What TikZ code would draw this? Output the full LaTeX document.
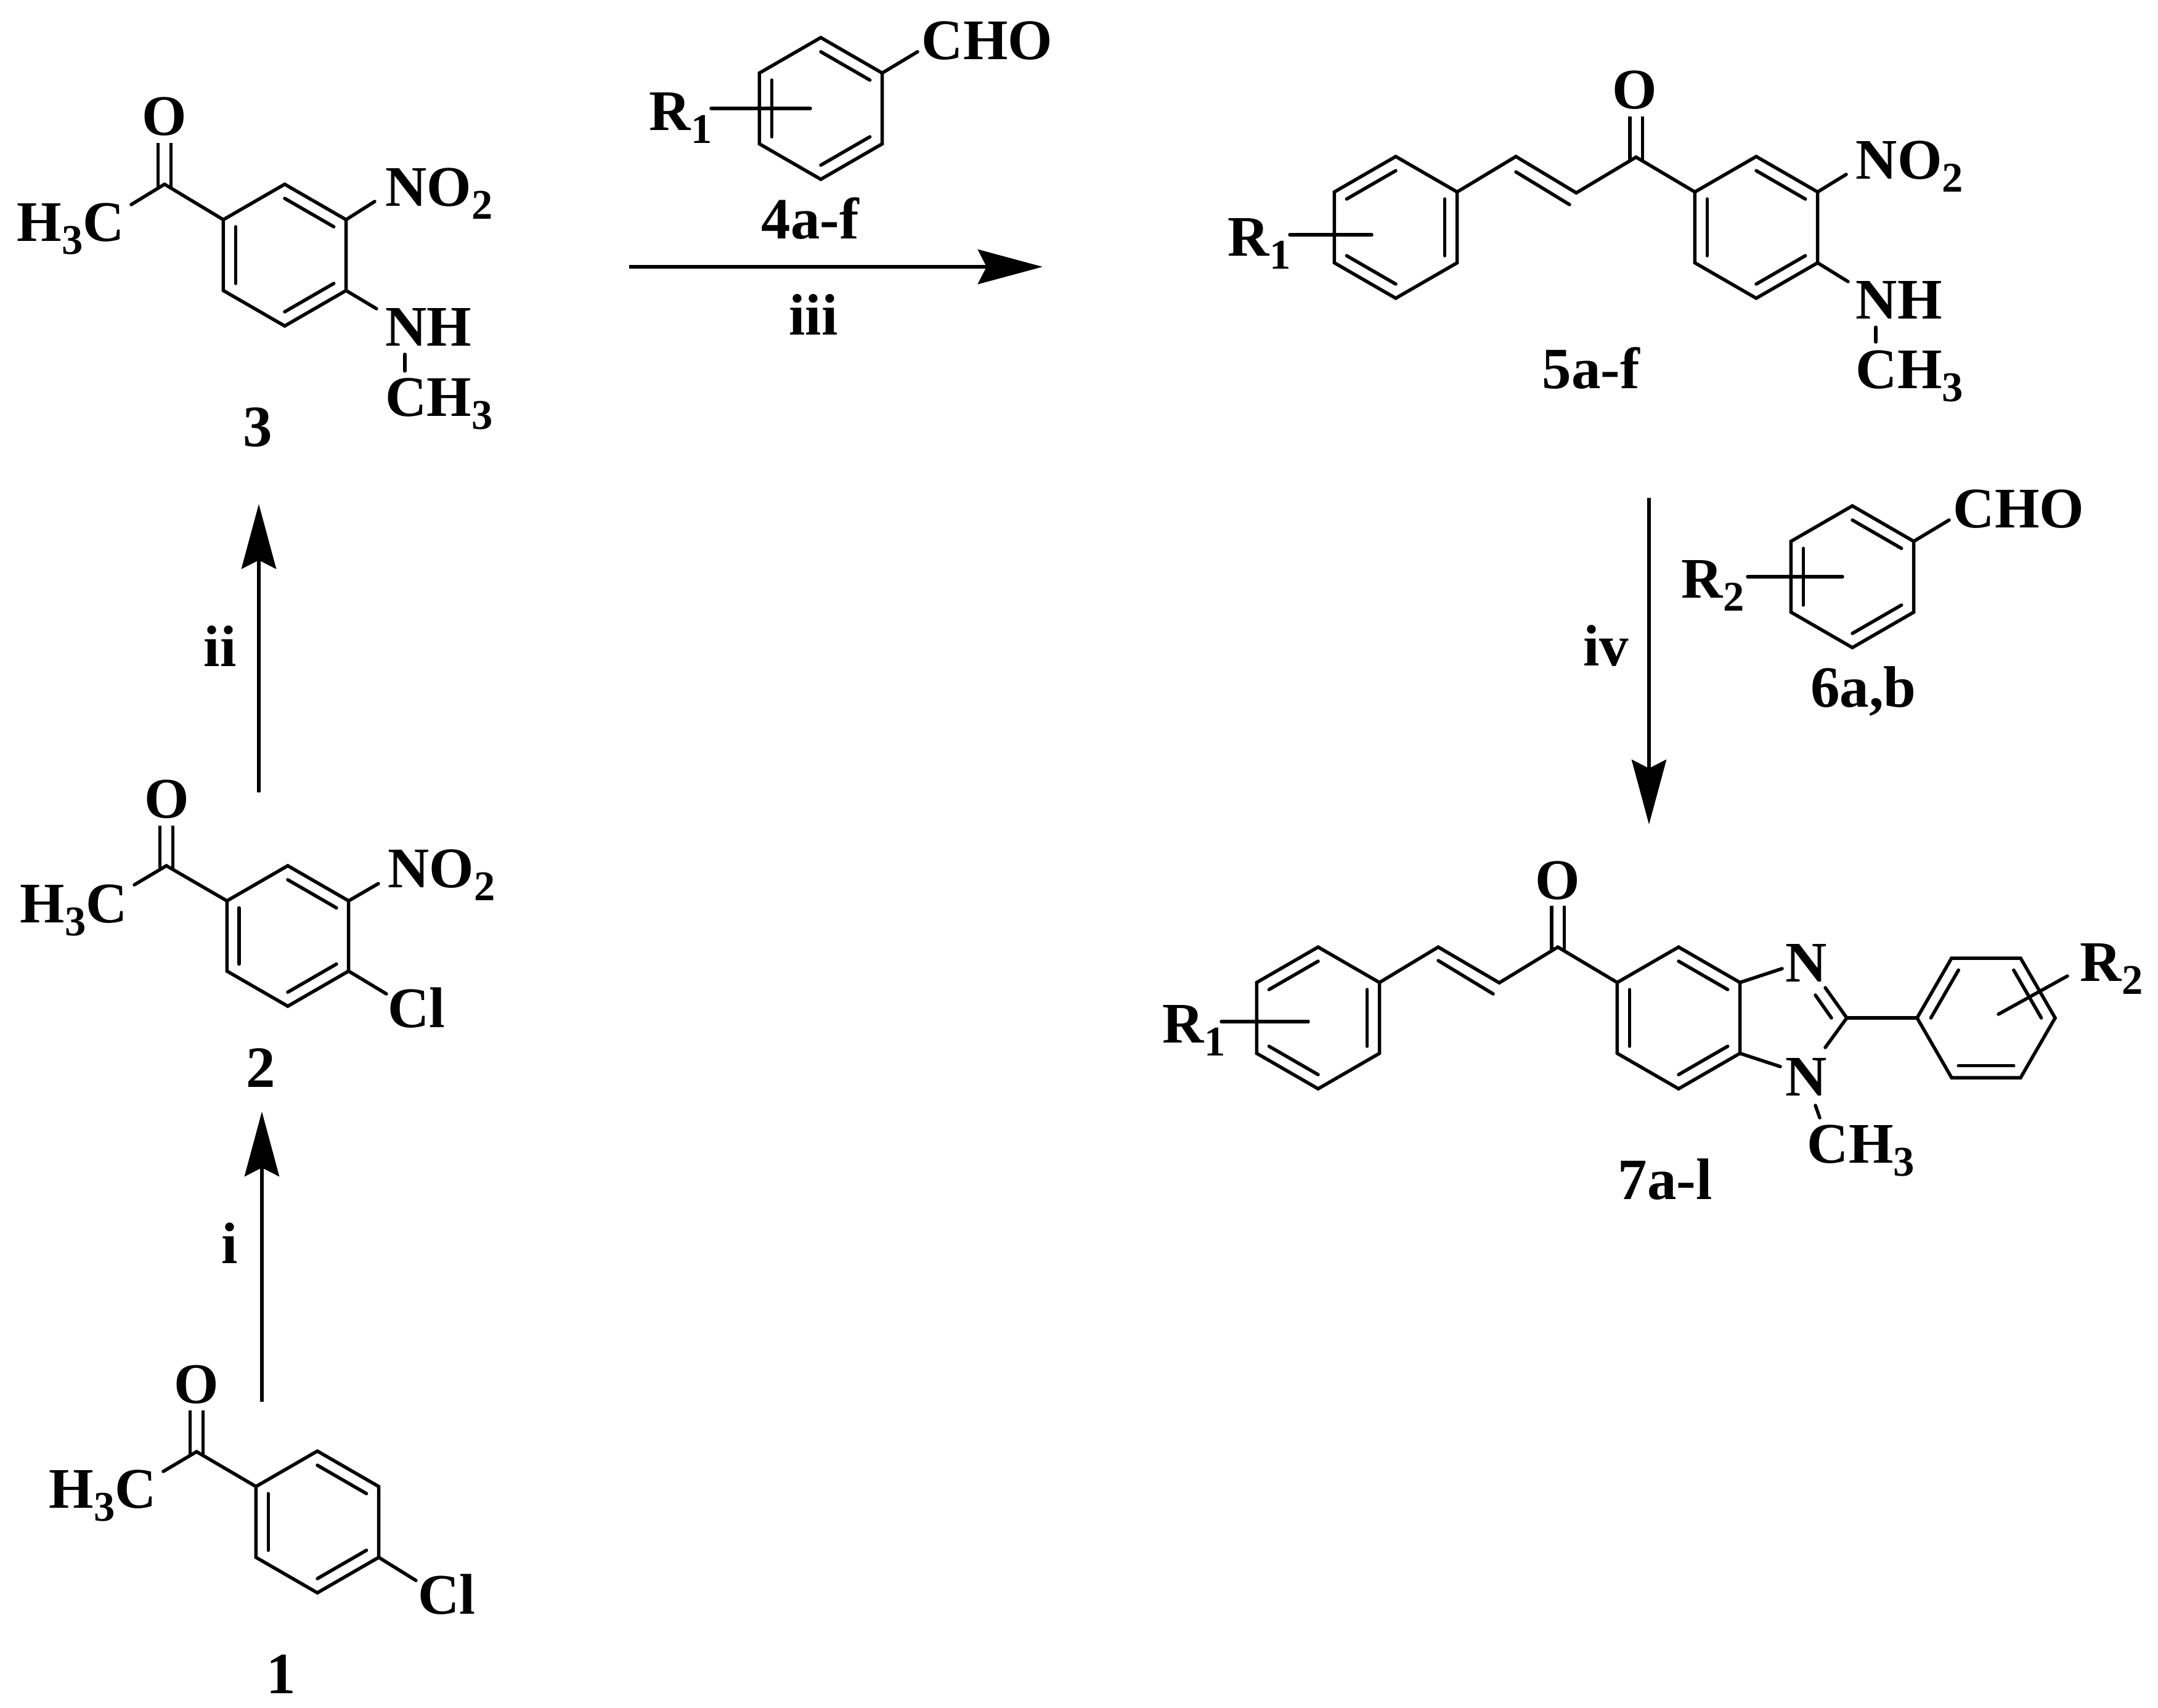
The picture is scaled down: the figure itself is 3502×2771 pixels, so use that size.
\documentclass[tikz,border=0pt]{standalone}
\usepackage{fontspec}
\setmainfont{Liberation Serif}
\usepackage{tikz}
\usetikzlibrary{calc}
\usetikzlibrary{arrows.meta}

\newcommand{\sbs}[1]{\raisebox{-6pt}{\fontsize{19.5}{19.5}\selectfont #1}}
\newcommand{\benzene}[6]{%
  \coordinate (#1) at (#2,#3);
  \foreach \k in {1,...,6} {
    \coordinate (#1-\k) at ({#2+#4*cos(#5+60*(\k-1))},{#3+#4*sin(#5+60*(\k-1))});
  }
  \draw[bond] (#1-1) -- (#1-2) -- (#1-3) -- (#1-4) -- (#1-5) -- (#1-6) -- cycle;
  \foreach \a/\b in {#6} {
    \draw[bond] ($(#1)!.8!(#1-\a)$) -- ($(#1)!.8!(#1-\b)$);
  }
}
\tikzset{
  bond/.style={line width=.055cm,line join=miter,line cap=round},
  cdouble/.style={draw,double,line width=.055cm,double distance=.15cm},
  atom/.style={inner sep=0pt,anchor=base west,font=\fontsize{26.5}{30}\selectfont\bfseries},
  oxy/.style={atom,anchor=base},
  cmpd/.style={inner sep=0pt,anchor=base,font=\fontsize{27}{30}\selectfont\bfseries},
  rxn/.style={line width=.06cm,-{Stealth[length=1.05cm,width=.56cm,inset=.14cm]}}
}

\begin{document}
\begin{tikzpicture}[x=.01cm,y=-.01cm]
      \useasboundingbox[fill=white] (0,0) rectangle (3502,2771);

      \draw[cdouble] (319,2364) -- (319,2289);
      \benzene{ringa}{515}{2470}{115}{-90}{1/2,3/4,5/6}
      \node[oxy] (oa) at (319,2277) {O};
      \node[atom] (ha) at (79,2447) {H\sbs{3}C};
      \node[atom] (cla) at (678,2619) {Cl};
      \node[cmpd] (laba) at (456,2748) {1};
      \coordinate (ca) at (319,2356);
      \coordinate (hae) at (265,2388);
      \coordinate (clae) at (675,2565);
      \draw[bond] (hae) -- (ca) -- (ringa-6);
      \draw[bond] (ringa-3) -- (clae);

      \draw[cdouble] (270,1413) -- (270,1340);
      \benzene{ringb}{467}{1519}{114}{-90}{1/2,3/4,5/6}
      \node[oxy] (ob) at (271,1327) {O};
      \node[atom] (hb) at (32,1497) {H\sbs{3}C};
      \node[atom] (nob) at (629,1440) {NO\sbs{2}};
      \node[atom] (clb) at (629,1667) {Cl};
      \node[cmpd] (labb) at (423,1764) {2};
      \coordinate (cb) at (270,1405);
      \coordinate (hbe) at (218,1436);
      \coordinate (nobe) at (614,1434);
      \coordinate (clbe) at (627,1613);
      \draw[bond] (hbe) -- (cb) -- (ringb-6);
      \draw[bond] (ringb-2) -- (nobe);
      \draw[bond] (ringb-3) -- (clbe);

      \draw[cdouble] (267,307) -- (267,232);
      \benzene{ringc}{462}{414}{115}{-90}{1/2,3/4,5/6}
      \node[oxy] (oc) at (267,219) {O};
      \node[atom] (hc) at (27,391) {H\sbs{3}C};
      \node[atom] (noc) at (625,334) {NO\sbs{2}};
      \node[atom] (nhc) at (625,561) {NH};
      \node[atom] (mec) at (625,675) {CH\sbs{3}};
      \node[cmpd] (labc) at (418,724) {3};
      \coordinate (cc) at (267,299);
      \coordinate (hce) at (213,332);
      \coordinate (noce) at (608,327);
      \coordinate (nhce) at (611,501);
      \coordinate (mect) at (657,575);
      \coordinate (mecb) at (657,602);
      \draw[bond] (hce) -- (cc) -- (ringc-6);
      \draw[bond] (ringc-2) -- (noce);
      \draw[bond] (ringc-3) -- (nhce);
      \draw[bond] (mect) -- (mecb);

      \benzene{ringd}{1332}{176}{115}{-90}{1/2,3/4,5/6}
      \node[atom] (chod) at (1495,96) {CHO};
      \node[atom] (rd) at (1053,211) {R\sbs{1}};
      \node[cmpd] (labd) at (1315,387) {4a-f};
      \coordinate (chode) at (1489,84);
      \coordinate (rdl) at (1154,176);
      \coordinate (rdr) at (1315,176);
      \draw[bond] (ringd-2) -- (chode);
      \draw[bond] (rdl) -- (rdr);

      \draw[cdouble] (2655,262) -- (2655,189);
      \benzene{ringe}{2265}{369}{115}{-90}{6/1,2/3,4/5}
      \benzene{ringf}{2850}{369}{115}{-90}{1/2,3/4,5/6}
      \node[oxy] (oe) at (2653,176) {O};
      \node[atom] (re) at (1992,415) {R\sbs{1}};
      \node[atom] (noe) at (3011,290) {NO\sbs{2}};
      \node[atom] (nhe) at (3011,517) {NH};
      \node[atom] (mee) at (3011,630) {CH\sbs{3}};
      \node[cmpd] (labe) at (2582,630) {5a-f};
      \coordinate (cea) at (2460,254);
      \coordinate (ceb) at (2558,313);
      \coordinate (cec) at (2655,255);
      \coordinate (cei) at (2460,279);
      \coordinate (cej) at (2547,332);
      \coordinate (rel) at (2093,381);
      \coordinate (rer) at (2226,381);
      \coordinate (noee) at (2996,283);
      \coordinate (nhee) at (2999,457);
      \coordinate (meet) at (3044,531);
      \coordinate (meeb) at (3044,555);
      \draw[bond] (ringe-2) -- (cea) -- (ceb) -- (cec) -- (ringf-6);
      \draw[bond] (cei) -- (cej);
      \draw[bond] (rel) -- (rer);
      \draw[bond] (ringf-2) -- (noee);
      \draw[bond] (ringf-3) -- (nhee);
      \draw[bond] (meet) -- (meeb);

      \benzene{ringg}{3006}{936}{115}{-90}{1/2,3/4,5/6}
      \node[atom] (chog) at (3169,856) {CHO};
      \node[atom] (rg) at (2728,970) {R\sbs{2}};
      \node[cmpd] (labg) at (3024,1147) {6a,b};
      \coordinate (choge) at (3163,844);
      \coordinate (rgl) at (2836,936);
      \coordinate (rgr) at (2990,936);
      \draw[bond] (ringg-2) -- (choge);
      \draw[bond] (rgl) -- (rgr);

      \draw[cdouble] (2528,1545) -- (2528,1470);
      \benzene{ringh}{2139}{1652}{115}{-90}{6/1,2/3,4/5}
      \benzene{ringi}{2724}{1652}{115}{-90}{1/2,3/4,5/6}
      \benzene{ringj}{3223}{1652}{112}{0}{4/5,6/1,2/3}
      \node[oxy] (oh) at (2528,1459) {O};
      \node[atom] (rh) at (1886,1692) {R\sbs{1}};
      \node[atom] (nha) at (2897,1593) {N};
      \node[atom] (nhb) at (2897,1778) {N};
      \node[atom] (meh) at (2932,1887) {CH\sbs{3}};
      \node[atom] (rj) at (3375,1592) {R\sbs{2}};
      \node[cmpd] (labh) at (2702,1946) {7a-l};
      \coordinate (cha) at (2334,1537);
      \coordinate (chb) at (2433,1595);
      \coordinate (chc) at (2528,1537);
      \coordinate (chi) at (2334,1559);
      \coordinate (chj) at (2423,1613);
      \coordinate (rhl) at (1982,1658);
      \coordinate (rhr) at (2123,1658);
      \coordinate (naa) at (2892,1572);
      \coordinate (nbb) at (2889,1731);
      \coordinate (cna) at (2962,1603);
      \coordinate (cnb) at (2962,1700);
      \coordinate (cct) at (2997,1652);
      \coordinate (cni) at (2946,1615);
      \coordinate (cnj) at (2972,1652);
      \coordinate (meht) at (2946,1794);
      \coordinate (mehb) at (2953,1814);
      \coordinate (rjl) at (3355,1584);
      \coordinate (rjr) at (3243,1646);
      \draw[bond] (ringh-2) -- (cha) -- (chb) -- (chc) -- (ringi-6);
      \draw[bond] (chi) -- (chj);
      \draw[bond] (rhl) -- (rhr);
      \draw[bond] (ringi-2) -- (naa);
      \draw[bond] (ringi-3) -- (nbb);
      \draw[bond] (cna) -- (cct) -- (cnb);
      \draw[bond] (cni) -- (cnj);
      \draw[bond] (cct) -- (ringj-4);
      \draw[bond] (meht) -- (mehb);
      \draw[bond] (rjl) -- (rjr);

      \coordinate (ias) at (425,2275);
      \coordinate (iae) at (425,1804);
      \coordinate (ibs) at (420,1286);
      \coordinate (ibe) at (420,818);
      \coordinate (ics) at (1021,433);
      \coordinate (ice) at (1692,433);
      \coordinate (ids) at (2676,808);
      \coordinate (ide) at (2676,1338);
      \draw[rxn] (ias) -- (iae);
      \draw[rxn] (ibs) -- (ibe);
      \draw[rxn] (ics) -- (ice);
      \draw[rxn] (ids) -- (ide);
      \node[cmpd] (stepi) at (373,2050) {i};
      \node[cmpd] (stepii) at (357,1081) {ii};
      \node[cmpd] (stepiii) at (1320,543) {iii};
      \node[cmpd] (stepiv) at (2606,1080) {iv};
    \end{tikzpicture}
\end{document}
